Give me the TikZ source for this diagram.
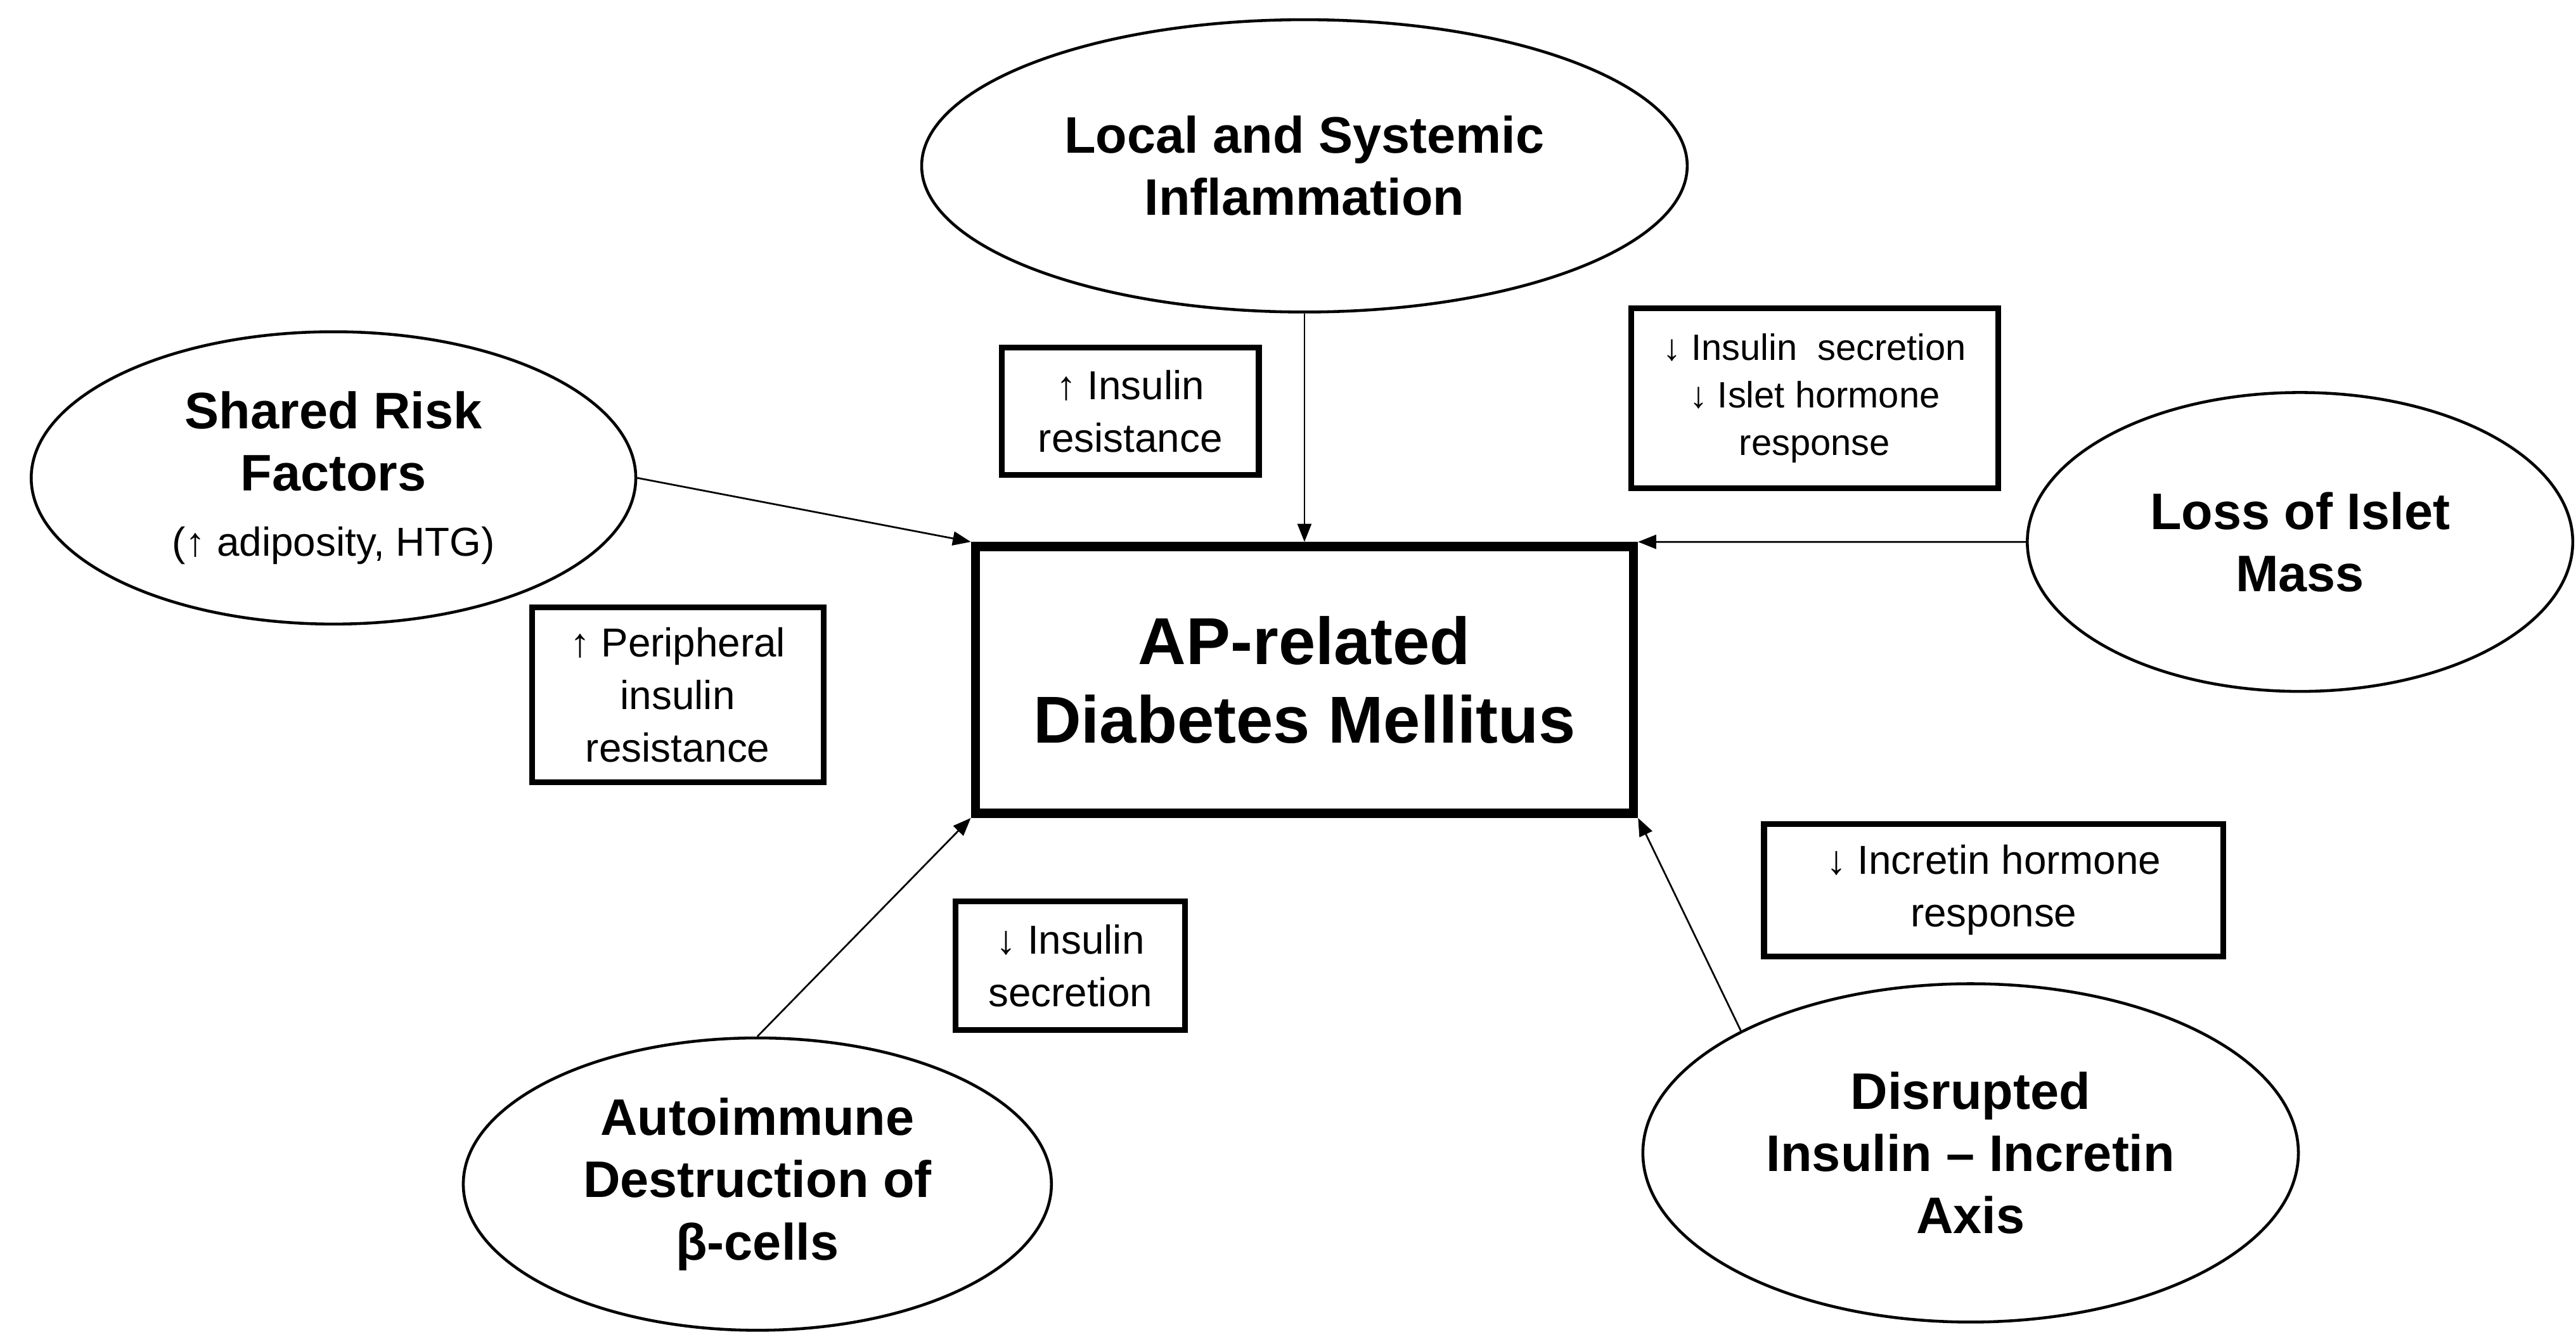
\documentclass[tikz,border=0pt]{standalone}
\usepackage{fontspec}
\setmainfont{Liberation Sans}
\usetikzlibrary{arrows.meta,shapes.geometric}

\begin{document}
\begin{tikzpicture}[>={Triangle[length=0.22cm,width=0.17cm]},
    factor/.style={ellipse,draw,line width=1pt,inner sep=0pt,align=center,font=\fontsize{17.8pt}{21.6pt}\selectfont\bfseries},
    effect/.style={draw,line width=2pt,inner sep=0pt,align=center,font=\fontsize{14pt}{18.2pt}\selectfont},
    outcome/.style={draw,line width=3.2pt,inner sep=0pt,align=center,font=\fontsize{23pt}{27.2pt}\selectfont\bfseries},
    link/.style={->,line width=0.6pt}]

\useasboundingbox (0,0) rectangle (31.36,16.28);
\fill[white] (0,0) rectangle (31.36,16.28);

% Central outcome
\node[outcome,minimum width=8.01cm,minimum height=3.25cm] at (15.88,8.0) (apdm) {AP-related\\Diabetes Mellitus};

% Contributing mechanisms
\node[factor,minimum width=9.32cm,minimum height=3.56cm] at (15.88,14.26) (infl) {Local and Systemic\\Inflammation};
\node[factor,minimum width=7.36cm,minimum height=3.56cm] at (4.06,10.46) (risk) {Shared Risk\\Factors\\[1pt]{\mdseries\fontsize{14pt}{18pt}\selectfont(↑ adiposity, HTG)}};
\node[factor,minimum width=6.64cm,minimum height=3.64cm] at (28.0,9.68) (islet) {Loss of Islet\\Mass};
\node[factor,minimum width=7.16cm,minimum height=3.56cm] at (9.22,1.86) (auto) {Autoimmune\\Destruction of\\β-cells};
\node[factor,minimum width=7.98cm,minimum height=4.12cm] at (23.99,2.24) (axis) {Disrupted\\Insulin – Incretin\\Axis};

% Effects
\node[effect,minimum width=3.13cm,minimum height=1.55cm] at (13.76,11.27) (ir) {↑ Insulin\\resistance};
\node[effect,minimum width=3.55cm,minimum height=2.13cm] at (8.25,7.82) (pir) {↑ Peripheral\\insulin\\resistance};
\node[effect,minimum width=4.47cm,minimum height=2.19cm,font=\fontsize{12.7pt}{16.5pt}\selectfont] at (22.09,11.43) (isec) {↓ Insulin\ \ secretion\\↓ Islet hormone\\response};
\node[effect,minimum width=2.79cm,minimum height=1.57cm] at (13.03,4.52) (secr) {↓ Insulin\\secretion};
\node[effect,minimum width=5.59cm,minimum height=1.61cm] at (24.27,5.44) (incr) {↓ Incretin hormone\\response};

% Arrows into the outcome
\draw[link] (infl.south) -- (apdm.north);
\draw[link] (risk.east) -- (apdm.north west);
\draw[link] (islet.west) -- (apdm.north east);
\draw[link] (auto.north) -- (apdm.south west);
\draw[link] (axis.152) -- (apdm.south east);

\end{tikzpicture}
\end{document}
